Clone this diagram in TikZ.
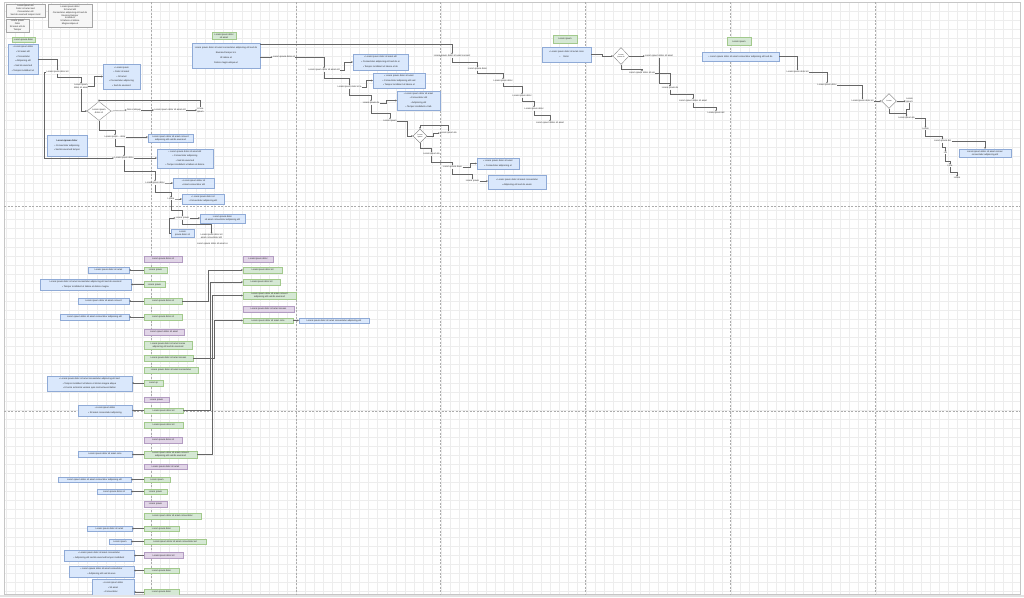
\documentclass[tikz,border=0pt]{standalone}
\usepackage{fontspec}
\setmainfont{Liberation Sans}
\usetikzlibrary{arrows.meta,shapes.geometric}
\definecolor{bfill}{HTML}{DAE8FC}\definecolor{bbd}{HTML}{8FAAD6}
\definecolor{gfill}{HTML}{D5E8D4}\definecolor{gbd}{HTML}{A2C98C}
\definecolor{pfill}{HTML}{E1D5E7}\definecolor{pbd}{HTML}{B39CC2}
\begin{document}
\begin{tikzpicture}[x=1pt,y=-1pt,
  txt/.style={font=\fontsize{2.3}{2.9}\selectfont, inner sep=0.3pt, align=center, text=black!85},
  lh/.style={font=\fontsize{2.3}{#1}\selectfont},
  bb/.style={txt, draw=bbd, fill=bfill, line width=0.3pt, inner sep=0.6pt},
  gb/.style={txt, draw=gbd, fill=gfill, line width=0.3pt, inner sep=0.6pt},
  pb/.style={txt, draw=pbd, fill=pfill, line width=0.3pt, inner sep=0.6pt},
  lg/.style={txt, draw=gray!70, fill=gray!7, line width=0.45pt, inner sep=0.6pt},
  dia/.style={txt, diamond, draw=black!55, fill=white, line width=0.3pt, inner sep=0pt},
  arr/.style={draw=black!60, line width=0.25pt, -{Stealth[length=1.6pt,width=1.5pt]}},
  sep/.style={draw=gray!65, line width=0.45pt, dash pattern=on 2pt off 1.5pt}]
\useasboundingbox (0,0) rectangle (1024,597);
\fill[white] (0,0) rectangle (1024,597);
\begin{scope}[shift={(6,2)}]
\draw[gray!14, line width=0.25pt] (-2,0) grid[xstep=9.0625pt,ystep=9.0625pt] (1014,592);
\end{scope}
\draw[gray!45, line width=0.3pt] (4,2) rectangle (1020,594);
\foreach \xx in {151,296,440,585,730,875} \draw[sep] (\xx,2) -- (\xx,594);
\foreach \yy in {206.5,411.5} \draw[sep] (4,\yy) -- (1020,\yy);

% legends
\node[lg, minimum width=39, minimum height=13] (LA) at (25.5,10.5) {Lorem ipsum do\\Dolor sit amet sed\\Consectetur elit\\Sed do eiusmod tempor incid};
\node[lg, minimum width=44, minimum height=23] (LB) at (70,15.5) {Lorem ipsum dolor\\Sit amet elit\\Consectetur adipiscing elit sed do\\Eiusmod tempor\\Incididunt\\Ut labore et dolore\\Magna aliqua ut};
\node[lg, minimum width=23, minimum height=13] (LC) at (17.5,25.5) {Lorem ipsum\\Dolor\\Sit amet elit do\\Tempor};

% lane 1
\node[gb, minimum width=23, minimum height=5] (G1) at (23.5,39.5) {Lorem ipsum dolor};
\node[bb, lh=4.8, minimum width=30, minimum height=30] (B1) at (23,59) {\textbullet\ Lorem ipsum dolor\\\textbullet\ Sit amet elit\\\textbullet\ Consectetur\\\textbullet\ Adipiscing elit\\\textbullet\ Sed do eiusmod\\\textbullet\ Tempor incididunt ut};
\node[txt] (T1) at (57.5,72) {Lorem ipsum dolor sit};
\node[txt] (T2) at (81,86.5) {Lorem ipsum\\dolor sit amet};
\node[bb, lh=4.6, minimum width=37, minimum height=25] (B2) at (121.5,76.5) {\textbullet\ Lorem ipsum\\\textbullet\ Dolor sit amet\\\textbullet\ Sit amet\\\textbullet\ Consectetur adipiscing\\\textbullet\ Sed do eiusmod};
\node[dia, minimum width=24, minimum height=19] (D1) at (99,111) {Lorem ipsum\\dolor sit};
\node[txt] (T3) at (134,110) {Nisi ut aliquip};
\node[txt] (T4) at (170,110) {Lorem ipsum dolor sit amet elit};
\node[txt] (T5) at (200.5,110) {A lore\\ipsum};
\node[bb, lh=4.5, minimum width=40, minimum height=21] (B4) at (67,145.5) {\textbf{Lorem ipsum dolor}\\\textbullet\ Consectetur adipiscing\\\textbullet\ Sed do eiusmod tempor};
\node[txt] (T6) at (115,137) {Lorem ipsum -- dolor};
\node[bb, minimum width=45, minimum height=8] (B3) at (170.5,138) {Lorem ipsum dolor sit amet consect\\adipiscing elit sed do eiusmod};
\node[txt] (T7) at (124,158) {Lorem ipsum dolor};
\node[bb, lh=4.4, minimum width=56, minimum height=19] (B5) at (185,158.5) {\textbullet\ Lorem ipsum dolor sit amet elit\\\textbullet\ Consectetur adipiscing\\\textbullet\ Sed do eiusmod\\\textbullet\ Tempor incididunt ut labore et dolore};
\node[txt] (T8) at (155,183) {Lorem ipsum dolor};
\node[bb, lh=4, minimum width=41, minimum height=10] (B6) at (193.5,183) {\textbullet\ Lorem ipsum dolor sit\\\textbullet\ Amet consectetur elit};
\node[txt] (T9) at (171,199) {Lorem};
\node[bb, lh=4, minimum width=42, minimum height=10] (B7) at (203,199) {\textbullet\ Lorem ipsum dolor sit\\\textbullet\ Consectetur adipiscing elit};
\node[txt] (T10) at (182.5,218) {Lorem ipsum};
\node[bb, minimum width=23, minimum height=8] (B8) at (182.5,233) {Lorem\\ipsum dolor sit};
\node[bb, minimum width=45, minimum height=9] (B9) at (222.5,218.5) {Lorem ipsum dolor\\sit amet consectetur adipiscing elit};
\node[txt] (T11) at (211.5,236.5) {Lorem ipsum dolor sit\\amet consectetur elit};
\node[txt] (T12) at (212.5,243.5) {Lorem ipsum dolor sit amet co};

% lanes 2-3
\node[gb, minimum width=24, minimum height=7] (G2) at (224,36) {Lorem ipsum dolor\\sit amet};
\node[bb, lh=5, minimum width=68, minimum height=25] (B10) at (226,55.5) {Lorem ipsum dolor sit amet consectetur adipiscing elit sed do\\Eiusmod tempor inc\\Ut labore et\\Dolore magna aliqua ut};
\node[txt] (T13) at (284,57) {Lorem ipsum dolor sit};
\node[txt] (T14) at (324,70) {Lorem ipsum dolor sit amet elit};
\node[bb, lh=4.6, minimum width=55, minimum height=16] (B11) at (380.5,62) {\textbullet\ Lorem ipsum dolor sit amet elit\\\textbullet\ Consectetur adipiscing elit sed do ei\\\textbullet\ Tempor incididunt ut labore et do};
\node[txt] (T15) at (349.5,87) {Lorem ipsum dolor sit a};
\node[bb, lh=4.6, minimum width=52, minimum height=15] (B12) at (399,80.5) {\textbullet\ Lorem ipsum dolor sit amet\\\textbullet\ Consectetur adipiscing elit sed\\\textbullet\ Tempor incididunt ut labore et};
\node[txt] (T16) at (371,103) {Lorem ipsum do};
\node[bb, lh=4.4, minimum width=43, minimum height=19] (B13) at (418.5,100.5) {\textbullet\ Lorem ipsum dolor sit amet\\\textbullet\ Consectetur elit\\\textbullet\ Adipiscing elit\\\textbullet\ Tempor incididunt ut lab};
\node[txt] (T17) at (390,121) {Lorem ipsum};
\node[dia, minimum width=14, minimum height=14, font=\fontsize{1.8}{2.2}\selectfont] (D2) at (420,136) {Lorem\\ipsum};
\node[txt] (T18) at (448.5,133) {Lorem ipsum do};
\node[txt] (T19) at (431.5,154) {Lorem ipsum do};
\node[txt] (T21) at (452.5,167) {Lorem ipsum dolor};
\node[bb, lh=4.2, minimum width=42, minimum height=11] (B14) at (498,163.5) {\textbullet\ Lorem ipsum dolor sit amet\\\textbullet\ Consectetur adipiscing el};
\node[txt] (T22) at (472.5,181) {Lorem ipsum};
\node[bb, lh=5, minimum width=58, minimum height=14] (B15) at (517,182) {\textbullet\ Lorem ipsum dolor sit amet consectetur\\\textbullet\ Adipiscing elit sed do eiusm};

% lane 4
\node[txt] (T20) at (452,56) {Lorem ipsum dolor sit amet consect};
\node[txt] (T23) at (477.5,69) {Lorem ipsum dolor};
\node[txt] (T24) at (503,81) {Lorem ipsum dolor};
\node[txt] (T25) at (522,96) {Lorem ipsum dolor};
\node[txt] (T26) at (534,109) {Lorem ipsum dolor};
\node[txt] (T27) at (550,123) {Lorem ipsum dolor sit amet};

% lane 4-5
\node[gb, minimum width=24, minimum height=8] (G3) at (565,39) {Lorem ipsum};
\node[bb, lh=5, minimum width=49, minimum height=15] (B16) at (566.5,54.5) {\textbullet\ Lorem ipsum dolor sit amet cons\\\textbullet\ \quad Dolor\quad\quad\quad};
\node[dia, minimum width=16, minimum height=17, font=\fontsize{1.8}{2.2}\selectfont] (D3) at (621,56) {Lorem\\ipsum do};
\node[txt] (T28) at (659,56) {Lorem ipsum dolor sit amet};
\node[txt] (T29) at (642,73) {Lorem ipsum dolor sit am};
\node[txt] (T30) at (670,88) {Lorem ipsum do};
\node[txt] (T31) at (693,101) {Lorem ipsum dolor sit amet};
\node[txt] (T32) at (716,113) {Lorem ipsum dol};

% lane 6-7
\node[gb, minimum width=24, minimum height=8] (G4) at (739,41.5) {Lorem ipsum};
\node[bb, minimum width=77, minimum height=9] (B17) at (740.5,56.5) {\textbullet\ Lorem ipsum dolor sit amet consectetur adipiscing elit sed do};
\node[txt] (T33) at (797.5,72) {Lorem ipsum dolor sit};
\node[txt] (T34) at (827,85) {Lorem ipsum dolor};
\node[txt] (T35) at (862.5,101) {Lorem ipsum dolor sit};
\node[dia, minimum width=15, minimum height=15, font=\fontsize{1.8}{2.2}\selectfont] (D4) at (889,101) {Lorem};
\node[txt] (T36) at (909.5,100) {Lorem\\ipsum};
\node[txt] (T37) at (906.5,118) {Lorem ipsum do};
\node[txt] (T38) at (925.5,129) {Lorem};
\node[txt] (T39) at (942.5,141) {Lorem ipsum dol};
\node[bb, minimum width=52, minimum height=8] (B18) at (985,153) {Lorem ipsum dolor sit amet consec\\consectetur adipiscing elit};
\node[txt] (T40) at (945.5,153) {Lor};
\node[txt] (T41) at (950,166) {Lore};
\node[txt] (T42) at (957,178) {Lorem};

% connectors top
\draw[arr] (B1.east) -| (T1.north);
\draw[arr] (T1.south) -- ++(0,4) -| (T2.north);
\draw[arr] (T2.east) -- ++(6,0) |- (B2.west);
\draw[arr] (T2.south) |- (D1.west);
\draw[arr] (T1.west) -- ++(-2,0) |- (T7.west);
\draw[arr] (D1.east) -- (T3.west);
\draw[arr] (T3.east) -- (T4.west);
\draw[arr] (T4.east) -- (T5.west);
\draw[arr] (T5.north) -- ++(0,-7) -| (D1.north);
\draw[arr] (D1.south) -- ++(0,9) -| (T6.north);
\draw[arr] (T6.east) -- (B3.west |- T6.east);
\draw[arr] (T6.south) -- ++(0,8) -| (T7.north);
\draw[arr] (T7.east) -- (B5.west |- T7.east);
\draw[arr] (T7.south) -- ++(0,12) -| (T8.north);
\draw[arr] (T8.east) -- ++(4,0) |- (B6.west);
\draw[arr] (T8.south) -- ++(0,8) -| (T9.north);
\draw[arr] (T9.east) -- ++(3,0) |- (B7.west);
\draw[arr] (T9.south) -- ++(0,10) -| (T10.north);
\draw[arr] (T10.east) -- (B9.west |- T10.east);
\draw[arr] (B8.west) -- ++(-2,0) |- (T10.west);
\draw[arr] (T10.south) -- ++(0,5) -| (T11.north);

\draw[arr] ([yshift=-1pt]B10.north east) -| (T20.north);
\draw[arr] (B10.east |- T13.west) -- (T13.west);
\draw[arr] (T13.east) -| (T14.north);
\draw[arr] (T14.east) -- ++(4,0) |- (B11.west);
\draw[arr] (T14.south) -- ++(0,7) -| (T15.north);
\draw[arr] (T15.east) -- ++(4,0) |- (B12.west);
\draw[arr] (T15.south) -- ++(0,7) -| (T16.north);
\draw[arr] (T16.east) -- ++(6,0) |- (B13.west);
\draw[arr] (T16.south) -- ++(0,9) -| (T17.north);
\draw[arr] (T17.east) -- ++(10,0) |- (D2.west);
\draw[arr] (D2.east) -- ++(6,0) |- (T18.west);
\draw[arr] (T18.north) -- ++(0,-6.5) -| (D2.north);
\draw[arr] (D2.south) -- ++(0,5) -| (T19.north);
\draw[arr] (T19.south) -- ++(0,7) -| (T21.north);
\draw[arr] (T21.east) -- ++(8,0) |- (B14.west);
\draw[arr] (T21.south) -- ++(0,6) -| (T22.north);
\draw[arr] (T22.east) -- (B15.west |- T22.east);

\draw[arr] (T20.south) -- ++(0,5) -| (T23.north);
\draw[arr] (T23.south) -- ++(0,3) -| (T24.north);
\draw[arr] (T24.south) -- ++(0,4) -| (T25.north);
\draw[arr] (T25.south) -- ++(0,4) -| (T26.north);
\draw[arr] (T26.south) -- ++(0,5) -| (T27.north);

\draw[arr] (B16.east) -- ++(11,0) |- (D3.west);
\draw[arr] (D3.east) -- (T28.west);
\draw[arr] (D3.south) -- ++(0,4) -| (T29.north);
\draw[arr] (T28.south) -- (T28.south |- 0,83) -| (T30.north);
\draw[arr] (T29.east) -| (T30.north);
\draw[arr] (T30.south) -- ++(0,5) -| (T31.north);
\draw[arr] (T31.south) -- ++(0,5) -| (T32.north);

\draw[arr] (B17.east) -| (T33.north);
\draw[arr] (T33.east) -| (T34.north);
\draw[arr] (T34.east) -| (T35.north);
\draw[arr] (T35.east) -- (D4.west);
\draw[arr] (D4.east) -- (T36.west |- D4.east);
\draw[arr] (D4.south) -- ++(0,4) -| (T37.north);
\draw[arr] (T36.south) -- ++(0,6) -| (T37.north);
\draw[arr] (T37.east) -| (T38.north);
\draw[arr] (T38.south) -- ++(0,6) -| (T39.north);
\draw[arr] (T39.east) -| (B18.north);
\draw[arr] (T39.south) -- ++(0,5) -| (T40.north);
\draw[arr] (T40.south) -- ++(0,7) -| (T41.north);
\draw[arr] (T41.south) -- ++(0,5) -| (T42.north);

% bottom column
\node[pb, minimum width=38, minimum height=6] (P1) at (163,259) {Lorem ipsum dolor sit};
\node[gb, minimum width=23, minimum height=6] (Gr1) at (155.5,270) {Lorem ipsum};
\node[bb, minimum width=41, minimum height=6] (BL1) at (108.5,270) {Lorem ipsum dolor sit amet};
\node[gb, minimum width=21, minimum height=6] (Gr2) at (154.5,284.5) {Lorem ipsum};
\node[bb, lh=4.2, minimum width=91, minimum height=11] (BL2) at (85.5,284.5) {Lorem ipsum dolor sit amet consectetur adipiscing elit sed do eiusmod\\\textbullet\ Tempor incididunt ut labore et dolore magna};
\node[gb, minimum width=38, minimum height=6] (Gr3) at (163,301) {Lorem ipsum dolor sit};
\node[bb, minimum width=51, minimum height=6] (BL3) at (103.5,301) {Lorem ipsum dolor sit amet consect};
\node[gb, minimum width=38, minimum height=6] (Gr4) at (163,317) {Lorem ipsum dolor sit};
\node[bb, minimum width=69, minimum height=6] (BL4) at (94.5,317) {Lorem ipsum dolor sit amet consectetur adipiscing elit};
\node[pb, minimum width=40, minimum height=6] (P2) at (164,332) {Lorem ipsum dolor sit amet};
\node[gb, minimum width=48, minimum height=8] (Gr5) at (168,345) {Lorem ipsum dolor sit amet conse\\adipiscing elit sed do eiusmod};
\node[gb, minimum width=49, minimum height=6] (Gr6) at (168.5,358) {Lorem ipsum dolor sit amet consec};
\node[gb, minimum width=54, minimum height=6] (Gr7) at (171,370) {Lorem ipsum dolor sit amet consectetur};
\node[gb, minimum width=19, minimum height=6] (Gr8) at (153.5,383) {Lorem ip};
\node[bb, lh=4.6, minimum width=85, minimum height=15] (BL5) at (89.5,383.5) {\textbullet\ Lorem ipsum dolor sit amet consectetur adipiscing elit sed\\\textbullet\ Tempor incididunt ut labore et dolore magna aliqua\\\textbullet\ Ut enim ad minim veniam quis nostrud exercitation};
\node[pb, minimum width=25, minimum height=5.5] (P3) at (156.5,399.5) {Lorem ipsum};
\node[gb, minimum width=39, minimum height=5.5] (Gr9) at (163.5,410.5) {Lorem ipsum dolor sit};
\node[bb, lh=4.4, minimum width=54, minimum height=11] (BL6) at (105,410.5) {\textbullet\ Lorem ipsum dolor\\\textbullet\ Sit amet consectetur adipiscing};
\node[gb, minimum width=39, minimum height=6] (Gr10) at (163.5,425) {Lorem ipsum dolor sit};
\node[pb, minimum width=38, minimum height=6] (P4) at (163,440) {Lorem ipsum dolor sit};
\node[gb, minimum width=53, minimum height=7.5] (Gr11) at (170.5,454.5) {Lorem ipsum dolor sit amet consect\\adipiscing elit sed do eiusmod};
\node[bb, minimum width=54, minimum height=6] (BL7) at (105,454) {Lorem ipsum dolor sit amet cons};
\node[pb, minimum width=43, minimum height=5.5] (P5) at (165.5,466.5) {Lorem ipsum dolor sit amet};
\node[gb, minimum width=26, minimum height=5.5] (Gr12) at (157,479.5) {Lorem ipsum};
\node[bb, minimum width=73, minimum height=5.5] (BL8) at (94.5,479.5) {Lorem ipsum dolor sit amet consectetur adipiscing elit};
\node[gb, minimum width=23, minimum height=5.5] (Gr13) at (155.5,491.5) {Lorem ipsum};
\node[bb, minimum width=34, minimum height=5.5] (BL9) at (114,491.5) {Lorem ipsum dolor sit};
\node[pb, minimum width=23, minimum height=6] (P6) at (155.5,504) {Lorem ipsum};
\node[gb, minimum width=57, minimum height=6] (Gr14) at (172.5,516) {Lorem ipsum dolor sit amet consectetur};
\node[gb, minimum width=35, minimum height=5.5] (Gr15) at (161.5,528.5) {Lorem ipsum dolor};
\node[bb, minimum width=45, minimum height=5.5] (BL10) at (109.5,528.5) {Lorem ipsum dolor sit amet};
\node[gb, minimum width=62, minimum height=5.5] (Gr16) at (175,541.5) {Lorem ipsum dolor sit amet consectetur ad};
\node[bb, minimum width=22, minimum height=5.5] (BL11) at (120,541.5) {Lorem ipsum};
\node[pb, minimum width=39, minimum height=6] (P7) at (163.5,555.5) {Lorem ipsum dolor sit};
\node[bb, lh=4.4, minimum width=70, minimum height=11] (BL12) at (99,555.5) {\textbullet\ Lorem ipsum dolor sit amet consectetur\\\textbullet\ Adipiscing elit sed do eiusmod tempor incididunt};
\node[gb, minimum width=35, minimum height=5.5] (Gr17) at (161.5,570.5) {Lorem ipsum dolor};
\node[bb, lh=4.4, minimum width=65, minimum height=11] (BL13) at (101.5,571.5) {\textbullet\ Lorem ipsum dolor sit amet consectetur\\\textbullet\ Adipiscing elit sed do eius};
\node[gb, minimum width=35, minimum height=6] (Gr18) at (161.5,592) {Lorem ipsum dolor};
\node[bb, lh=4.6, minimum width=42, minimum height=17] (BL14) at (113,587.5) {\textbullet\ Lorem ipsum dolor\\\textbullet\ Sit amet\\\textbullet\ Consectetur\qquad\quad};

\node[pb, minimum width=30, minimum height=6] (P8) at (258,259) {Lorem ipsum dolor};
\node[gb, minimum width=39, minimum height=6] (Gr19) at (262.5,270) {Lorem ipsum dolor sit};
\node[gb, minimum width=37, minimum height=6] (Gr20) at (261.5,282) {Lorem ipsum dolor sit};
\node[gb, minimum width=53, minimum height=7.5] (Gr21) at (269.5,295.5) {Lorem ipsum dolor sit amet consect\\adipiscing elit sed do eiusmod};
\node[pb, minimum width=51, minimum height=6] (P9) at (268.5,309) {Lorem ipsum dolor sit amet consec};
\node[gb, minimum width=50, minimum height=5.5] (Gr22) at (268,320.5) {Lorem ipsum dolor sit amet cons};
\node[bb, minimum width=70, minimum height=5.5] (BL15) at (334,320.5) {Lorem ipsum dolor sit amet consectetur adipiscing elit};

\foreach \g/\b in {Gr1/BL1,Gr2/BL2,Gr3/BL3,Gr4/BL4,Gr8/BL5,Gr9/BL6,Gr11/BL7,Gr12/BL8,Gr13/BL9,Gr15/BL10,Gr16/BL11,P7/BL12,Gr17/BL13,Gr18/BL14}
  \draw[arr] (\g.west) -- (\b.east |- \g.west);
\draw[arr] (Gr3.east) -- ++(26,0) |- (Gr19.west);
\draw[arr] (Gr9.east) -- ++(27,0) |- (Gr20.west);
\draw[arr] (Gr11.east) -- ++(15,0) |- (Gr21.west);
\draw[arr] (Gr6.east) -- ++(21,0) |- (Gr22.west);
\draw[arr] (Gr22.east) -- (BL15.west);

\fill[gray!22] (0,594.5) rectangle (1024,597);
\end{tikzpicture}
\end{document}
